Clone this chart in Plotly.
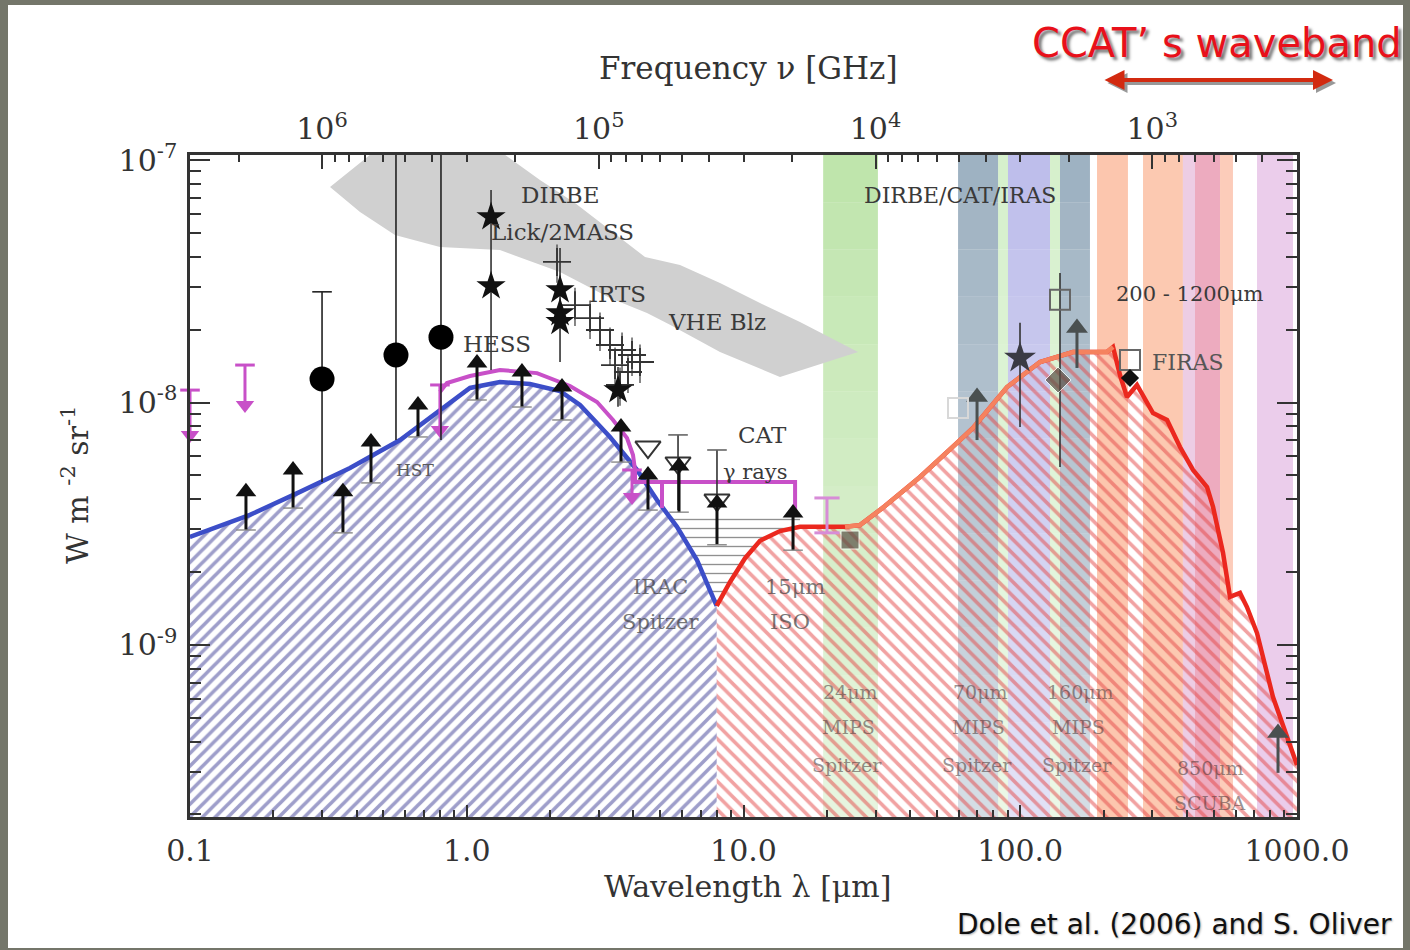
import plotly.graph_objects as go

# ---------------- data (wavelength in micron, intensity in W m^-2 sr^-1) ----------------
# instrument bands (vertical coloured strips)
band_lo = [19.4, 59.6, 83.2, 90.3, 128.1, 139.2, 189.4, 277.7, 387.0, 428.0, 527.0, 717.0]
band_hi = [30.6, 83.2, 90.3, 128.1, 139.2, 178.6, 245.0, 387.0, 428.0, 527.0, 587.0, 967.0]

# VHE blazar constraint region (grey)
vhe_lam = [0.3206, 0.4471, 1.375, 1.839, 2.461, 3.293, 4.407, 5.896, 8.225, 11.47, 16.0, 25.93,
           13.55, 8.225, 5.425, 4.48, 3.293, 2.173, 1.318, 0.80, 0.5504, 0.4114]
vhe_F = [7.74e-8, 1.05e-7, 1.05e-7, 8.27e-8, 6.65e-8, 5.14e-8, 3.98e-8, 3.69e-8, 3.11e-8, 2.57e-8, 2.15e-8, 1.615e-8,
         1.274e-8, 1.615e-8, 2.09e-8, 2.34e-8, 2.70e-8, 3.45e-8, 4.25e-8, 4.38e-8, 4.91e-8, 6.1e-8]

# COB (optical background) model
blue_lam = [0.1, 0.1647, 0.2497, 0.3786, 0.574, 0.80, 1.027, 1.318, 1.692, 2.173, 2.566, 3.293,
            4.123, 4.868, 5.75, 6.79, 8.0]
blue_F = [2.79e-9, 3.44e-9, 4.28e-9, 5.37e-9, 7.0e-9, 9.31e-9, 1.148e-8, 1.215e-8, 1.192e-8, 1.115e-8,
          9.77e-9, 7.21e-9, 5.27e-9, 3.96e-9, 3.07e-9, 2.24e-9, 1.45e-9]

# CIB (infrared background) model
red_lam = [8.0, 8.94, 10.13, 11.47, 13.55, 16.0, 23.27, 26.36, 32.45, 43.43, 60.57, 67.5, 89.6, 117.9,
           155.1, 205.9, 216.4, 229.3, 243.0, 264.1, 301.8, 339.1, 377.8, 421.0, 473.1, 497.3, 540.3,
           572.6, 622.3, 659.5, 717.0, 819.0, 1000.0]
red_F = [1.45e-9, 1.82e-9, 2.28e-9, 2.69e-9, 2.95e-9, 3.07e-9, 3.07e-9, 3.12e-9, 3.74e-9, 4.93e-9, 7.0e-9,
         7.85e-9, 1.158e-8, 1.469e-8, 1.615e-8, 1.615e-8, 1.694e-8, 1.298e-8, 1.054e-8, 1.181e-8, 9.05e-9,
         8.47e-9, 6.55e-9, 5.27e-9, 4.48e-9, 3.71e-9, 2.40e-9, 1.58e-9, 1.64e-9, 1.434e-9, 1.12e-9, 6.1e-10,
         3.2e-10]

# IRAC gap region (horizontal hatch)
irac_lam = [5.5, 5.75, 6.79, 8.0, 8.94, 10.13, 11.47, 13.55, 16.0, 16.0]
irac_F = [3.34e-9, 3.07e-9, 2.24e-9, 1.45e-9, 1.82e-9, 2.28e-9, 2.69e-9, 2.95e-9, 3.07e-9, 3.34e-9]

# HESS / gamma-ray upper-limit curve (magenta)
mag_lam = [0.80, 0.848, 1.027, 1.318, 1.794, 2.361, 2.956, 3.377, 3.793, 3.988, 4.055, 4.055, 15.36, 15.36]
mag_F = [1.105e-8, 1.203e-8, 1.286e-8, 1.361e-8, 1.322e-8, 1.17e-8, 1.005e-8, 8.47e-9, 7.14e-9, 6.07e-9,
         5.27e-9, 4.70e-9, 4.70e-9, 3.60e-9]
mag_drop_lam = [5.075]
mag_drop_lo = [3.67e-9]
mag_drop_hi = [4.70e-9]

# magenta upper limits (arrows pointing down)
ul_lam = [0.1, 0.158, 0.80, 3.955]
ul_hi = [1.125e-8, 1.427e-8, 1.181e-8, 5.27e-9]
ul_lo = [7.35e-9, 9.77e-9, 7.7e-9, 4.08e-9]
mbar_lam = [20.03]
mbar_lo = [2.90e-9]
mbar_hi = [4.04e-9]

# filled circles with error bars
circ_lam = [0.30, 0.555, 0.807]
circ_F = [1.25e-8, 1.57e-8, 1.86e-8]
circ_lo = [4.7e-9, 7.0e-9, 7.0e-9]
circ_hi = [2.86e-8, 1.5e-7, 1.5e-7]

# stars
star_lam = [1.224, 1.224, 2.173, 2.173, 2.173, 3.52]
star_F = [5.82e-8, 3.02e-8, 2.91e-8, 2.34e-8, 2.15e-8, 1.125e-8]
fir_star_lam = [99.8]
fir_star_F = [1.526e-8]

# plain vertical error bars
bar_lam = [1.224, 2.173, 3.52, 5.80, 8.02, 99.8, 139.2]
bar_lo = [1.36e-8, 1.47e-8, 9.6e-9, 3.6e-9, 2.59e-9, 7.92e-9, 5.42e-9]
bar_hi = [7.52e-8, 4.34e-8, 1.4e-8, 7.35e-9, 6.37e-9, 2.13e-8, 3.42e-8]

# IRTS crosses
irts_lam = [2.119, 2.461, 2.789, 3.03, 3.293, 3.64, 3.955, 3.434, 3.825, 3.579, 4.227]
irts_F = [3.80e-8, 2.52e-8, 2.23e-8, 1.99e-8, 1.726e-8, 1.646e-8, 1.57e-8, 1.427e-8, 1.336e-8, 1.181e-8, 1.469e-8]

# lower limits (arrows pointing up)
ll_lam = [0.1593, 0.2357, 0.357, 0.4508, 0.6665, 1.089, 1.583, 2.209, 3.609, 4.517, 5.848, 8.02, 15.1]
ll_lo = [2.98e-9, 3.67e-9, 2.90e-9, 4.66e-9, 7.21e-9, 1.024e-8, 9.58e-9, 8.47e-9, 5.68e-9, 3.60e-9, 3.53e-9,
         2.59e-9, 2.46e-9]
ll_hi = [4.28e-9, 5.27e-9, 4.28e-9, 6.87e-9, 9.77e-9, 1.455e-8, 1.336e-8, 1.158e-8, 7.92e-9, 5.02e-9, 5.47e-9,
         3.85e-9, 3.50e-9]
ll2_lam = [69.8, 160.3, 853.9]
ll2_lo = [7.0e-9, 1.388e-8, 2.97e-10]
ll2_hi = [1.054e-8, 2.03e-8, 4.34e-10]

# open down-triangles (CAT)
otri_lam = [4.517, 5.80, 8.02]
otri_F = [6.55e-9, 5.63e-9, 3.96e-9]

# open squares, dark squares
osq_lam = [139.2, 249.2, 59.57]
osq_F = [2.65e-8, 1.497e-8, 9.49e-9]
dsq_lam = [136.9, 24.26]
dsq_F = [1.238e-8, 2.71e-9]
blk_lam = [249.2]
blk_F = [1.262e-8]

x_ticks = [0.1, 1, 10, 100, 1000]
x_ticktext = ["0.1", "1.0", "10.0", "100.0", "1000.0"]
nu_ticks = [1e6, 1e5, 1e4, 1e3]
nu_ticktext = ["10<sup>6</sup>", "10<sup>5</sup>", "10<sup>4</sup>", "10<sup>3</sup>"]
y_ticks = [1e-9, 1e-8, 1e-7]
y_ticktext = ["10<sup>-9</sup>", "10<sup>-8</sup>", "10<sup>-7</sup>"]

# ---------------- styles ----------------
# (r, g, b, alpha at top, alpha at bottom)
band_styles = [(150, 212, 118, 0.62, 0.22), (118, 146, 168, 0.72, 0.30), (190, 232, 175, 0.65, 0.30),
               (158, 158, 225, 0.68, 0.30), (190, 232, 175, 0.65, 0.30), (118, 146, 168, 0.72, 0.30),
               (250, 160, 120, 0.60, 0.60), (250, 165, 125, 0.60, 0.60), (226, 175, 212, 0.62, 0.62),
               (226, 120, 152, 0.62, 0.62), (250, 170, 140, 0.60, 0.60), (222, 175, 222, 0.62, 0.62)]
N_SLICES = 14

SERIF = "DejaVu Serif"
INK = "#333333"
W, H = 1410, 950
PL, PR, PT, PB = 190, 1297, 155, 817
Y_RANGE = [-9.7093, -6.9794]
Y_LO, Y_HI = 1e-10, 1e-6  # beyond plot range, clipped


def pxx(x):
    return (x - PL) / (PR - PL)


def pxy(y):
    return (PB - y) / (PB - PT)


def segs(xs, a, b):
    X, Y = [], []
    for x, y0, y1 in zip(xs, a, b):
        X += [x, x, None]
        Y += [y0, y1, None]
    return X, Y


fig = go.Figure()

# instrument bands (vertical fade drawn as stacked slices)
for lo, hi, (r, g, b, a_top, a_bot) in zip(band_lo, band_hi, band_styles):
    if a_top == a_bot:
        fig.add_trace(go.Scatter(x=[lo, hi, hi, lo, lo], y=[Y_LO, Y_LO, Y_HI, Y_HI, Y_LO], mode="none",
                                 fill="toself", fillcolor=f"rgba({r},{g},{b},{a_top})", hoverinfo="skip"))
        continue
    for k in range(N_SLICES):
        e0 = Y_RANGE[0] + (Y_RANGE[1] - Y_RANGE[0]) * k / N_SLICES
        e1 = Y_RANGE[0] + (Y_RANGE[1] - Y_RANGE[0]) * (k + 1) / N_SLICES
        y0 = Y_LO if k == 0 else 10 ** e0
        y1 = Y_HI if k == N_SLICES - 1 else 10 ** e1
        t = (k + 0.5) / N_SLICES
        a = a_bot + (a_top - a_bot) * t
        fig.add_trace(go.Scatter(x=[lo, hi, hi, lo, lo], y=[y0, y0, y1, y1, y0], mode="none",
                                 fill="toself", fillcolor=f"rgba({r},{g},{b},{a:.3f})", hoverinfo="skip"))

# VHE region
fig.add_trace(go.Scatter(x=vhe_lam + vhe_lam[:1], y=vhe_F + vhe_F[:1], mode="none", fill="toself",
                         fillcolor="rgb(208,208,208)", hoverinfo="skip"))

# IRAC horizontal hatch
fig.add_trace(go.Scatter(x=irac_lam + irac_lam[:1], y=irac_F + irac_F[:1], mode="none", fill="toself",
                         fillcolor="rgba(0,0,0,0)",
                         fillpattern=dict(shape="-", fgcolor="#222222", bgcolor="rgba(0,0,0,0)", size=9,
                                          solidity=0.15),
                         hoverinfo="skip"))

# blue hatched area
fig.add_trace(go.Scatter(x=blue_lam + [blue_lam[-1], blue_lam[0], blue_lam[0]],
                         y=blue_F + [Y_LO, Y_LO, blue_F[0]], mode="none", fill="toself",
                         fillcolor="rgba(0,0,0,0)",
                         fillpattern=dict(shape="/", fgcolor="rgb(62,62,150)", bgcolor="rgba(255,255,255,0)",
                                          size=9, solidity=0.4),
                         hoverinfo="skip"))
# red hatched area
fig.add_trace(go.Scatter(x=red_lam + [red_lam[-1], red_lam[0], red_lam[0]],
                         y=red_F + [Y_LO, Y_LO, red_F[0]], mode="none", fill="toself",
                         fillcolor="rgba(0,0,0,0)",
                         fillpattern=dict(shape="\\", fgcolor="rgb(228,70,70)", bgcolor="rgba(255,255,255,0)",
                                          size=10, solidity=0.36),
                         hoverinfo="skip"))

# model curves
fig.add_trace(go.Scatter(x=blue_lam, y=blue_F, mode="lines", line=dict(color="rgb(60,78,200)", width=4.5)))
fig.add_trace(go.Scatter(x=red_lam, y=red_F, mode="lines", line=dict(color="rgb(235,40,30)", width=4.5)))
fig.add_trace(go.Scatter(x=red_lam[6:17], y=red_F[6:17], mode="lines",
                         line=dict(color="rgb(245,130,95)", width=4.5)))

# magenta curve and limits
MAG = "rgb(200,80,200)"
fig.add_trace(go.Scatter(x=mag_lam, y=mag_F, mode="lines", line=dict(color=MAG, width=4)))
X, Y = segs(mag_drop_lam, mag_drop_lo, mag_drop_hi)
fig.add_trace(go.Scatter(x=X, y=Y, mode="lines", line=dict(color=MAG, width=4)))
X, Y = segs(ul_lam, ul_lo, ul_hi)
fig.add_trace(go.Scatter(x=X, y=Y, mode="lines", line=dict(color=MAG, width=3), cliponaxis=False))
fig.add_trace(go.Scatter(x=ul_lam, y=ul_lo, mode="markers", cliponaxis=False,
                         marker=dict(symbol="triangle-down", size=16, color=MAG)))
fig.add_trace(go.Scatter(x=ul_lam, y=ul_hi, mode="markers", cliponaxis=False,
                         marker=dict(symbol="line-ew", size=14, color=MAG, line=dict(color=MAG, width=3))))
X, Y = segs(mbar_lam, mbar_lo, mbar_hi)
fig.add_trace(go.Scatter(x=X, y=Y, mode="lines", line=dict(color="rgb(215,140,215)", width=3)))
fig.add_trace(go.Scatter(x=mbar_lam * 2, y=mbar_lo + mbar_hi, mode="markers",
                         marker=dict(symbol="line-ew", size=18, color="rgb(215,140,215)",
                                     line=dict(color="rgb(215,140,215)", width=3))))

# error bars
X, Y = segs(circ_lam, circ_lo, circ_hi)
fig.add_trace(go.Scatter(x=X, y=Y, mode="lines", line=dict(color="#222222", width=1.6)))
fig.add_trace(go.Scatter(x=circ_lam[:1], y=circ_hi[:1], mode="markers",
                         marker=dict(symbol="line-ew", size=14, color="#222222",
                                     line=dict(color="#222222", width=1.6))))
X, Y = segs(bar_lam, bar_lo, bar_hi)
fig.add_trace(go.Scatter(x=X, y=Y, mode="lines", line=dict(color="#333333", width=1.6)))
fig.add_trace(go.Scatter(x=bar_lam[3:5], y=bar_hi[3:5], mode="markers",
                         marker=dict(symbol="line-ew", size=14, color="#666666",
                                     line=dict(color="#666666", width=1.6))))

# IRTS crosses
fig.add_trace(go.Scatter(x=irts_lam, y=irts_F, mode="markers",
                         marker=dict(symbol="cross-thin", size=20, color="#333333",
                                     line=dict(color="#333333", width=1.8)),
                         error_y=dict(type="percent", value=18, color="#444444", thickness=1.3, width=0)))

# circles, stars
fig.add_trace(go.Scatter(x=circ_lam, y=circ_F, mode="markers", marker=dict(symbol="circle", size=25,
                                                                              color="black")))
fig.add_trace(go.Scatter(x=star_lam, y=star_F, mode="markers", marker=dict(symbol="star", size=22,
                                                                              color="#111111")))
fig.add_trace(go.Scatter(x=fir_star_lam, y=fir_star_F, mode="markers",
                         marker=dict(symbol="star", size=24, color="#3a3a44")))

# open triangles (drawn before the lower-limit arrows)
fig.add_trace(go.Scatter(x=otri_lam, y=otri_F, mode="markers",
                         marker=dict(symbol="triangle-down-open", size=22, color="#333333",
                                     line=dict(color="#333333", width=2))))

# lower limits
X, Y = segs(ll_lam, ll_lo, ll_hi)
fig.add_trace(go.Scatter(x=X, y=Y, mode="lines", line=dict(color="#111111", width=3)))
fig.add_trace(go.Scatter(x=ll_lam, y=ll_lo, mode="markers",
                         marker=dict(symbol="line-ew", size=14, color="#888888",
                                     line=dict(color="#888888", width=1.4))))
fig.add_trace(go.Scatter(x=ll_lam, y=ll_hi, mode="markers",
                         marker=dict(symbol="triangle-up", size=18, color="#111111")))
X, Y = segs(ll2_lam, ll2_lo, ll2_hi)
fig.add_trace(go.Scatter(x=X, y=Y, mode="lines", line=dict(color="#4a5050", width=3)))
fig.add_trace(go.Scatter(x=ll2_lam, y=ll2_hi, mode="markers",
                         marker=dict(symbol="triangle-up", size=19, color="#4a5050")))

# squares
fig.add_trace(go.Scatter(x=osq_lam[:2], y=osq_F[:2], mode="markers",
                         marker=dict(symbol="square-open", size=20, color="#666666",
                                     line=dict(color="#666666", width=2))))
fig.add_trace(go.Scatter(x=osq_lam[2:], y=osq_F[2:], mode="markers",
                         marker=dict(symbol="square-open", size=20, color="#d8d8d8",
                                     line=dict(color="#d8d8d8", width=2))))
fig.add_trace(go.Scatter(x=dsq_lam, y=dsq_F, mode="markers",
                         marker=dict(symbol=["diamond", "square"], size=[20, 18], color="#5a5046")))
fig.add_trace(go.Scatter(x=blk_lam, y=blk_F, mode="markers",
                         marker=dict(symbol="diamond", size=14, color="#111111")))

# helper trace for the frequency axis
fig.add_trace(go.Scatter(x=nu_ticks, y=[1e-8] * len(nu_ticks), xaxis="x2", mode="markers",
                         marker=dict(opacity=0), hoverinfo="skip"))


# ---------------- text ----------------
def txt(s, x, y, size=23, color="#3a3a3a", family=SERIF, **kw):
    fig.add_annotation(text=s, x=pxx(x), y=pxy(y), xref="paper", yref="paper", showarrow=False,
                       font=dict(family=family, size=size, color=color), xanchor="center",
                       yanchor="middle", **kw)


txt("DIRBE", 560, 195)
txt("Lick/2MASS", 562, 232)
txt("IRTS", 617, 294)
txt("VHE Blz", 717, 322)
txt("HESS", 497, 344)
txt("HST", 415, 470, size=17, color="#5a5a5a")
txt("CAT", 762, 435)
txt("γ rays", 755, 472, size=21)
txt("IRAC", 660, 587, size=21, color="rgba(60,60,60,0.7)")
txt("Spitzer", 660, 622, size=21, color="rgba(60,60,60,0.7)")
txt("15μm", 795, 587, size=21, color="rgba(60,60,60,0.7)")
txt("ISO", 790, 622, size=21, color="rgba(60,60,60,0.7)")
txt("DIRBE/CAT/IRAS", 960, 195, size=22)
txt("200 - 1200μm", 1190, 294, size=21)
txt("FIRAS", 1187, 362, size=22, color="#555555")
for cx, lab in [(850, "24μm"), (980, "70μm"), (1080, "160μm")]:
    txt(lab, cx, 692, size=19, color="rgba(70,55,55,0.55)")
    txt("MIPS", cx - 2, 727, size=19, color="rgba(70,55,55,0.55)")
    txt("Spitzer", cx - 3, 765, size=19, color="rgba(70,55,55,0.55)")
txt("850μm", 1210, 768, size=19, color="rgba(70,55,55,0.55)")
txt("SCUBA", 1210, 803, size=19, color="rgba(70,55,55,0.55)")

# axis titles
txt("Wavelength λ [μm]", 748, 886, size=30, color=INK)
txt("Frequency ν [GHz]", 748, 68, size=31, color=INK)
txt("W m <sup>-2</sup> sr<sup>-1</sup>", 75, 485, size=30, color=INK, textangle=-90)

# CCAT label (text shadow via font.shadow) and double arrow
fig.add_annotation(text="CCAT’ s waveband", x=pxx(1030), y=pxy(43), xref="paper", yref="paper",
                   showarrow=False, xanchor="left", yanchor="middle",
                   font=dict(family="DejaVu Sans", size=40, color="#e8101a",
                             shadow="3px 3px 3px rgba(0,0,0,0.55)"))
for dx, dy, col in [(3, 3, "rgba(0,0,0,0.4)"), (0, 0, "#d22a10")]:
    fig.add_annotation(text="", x=pxx(1333 + dx), y=pxy(80 + dy), xref="paper", yref="paper",
                       ax=-230, ay=0, showarrow=True, arrowhead=2, startarrowhead=2, arrowside="end+start",
                       arrowwidth=4, arrowsize=1, startarrowsize=1, arrowcolor=col,
                       standoff=0, startstandoff=0)

fig.add_annotation(text="Dole et al. (2006) and S. Oliver", x=pxx(1394), y=pxy(924), xref="paper", yref="paper",
                   showarrow=False, xanchor="right", yanchor="middle",
                   font=dict(family="DejaVu Sans", size=28, color="#111111",
                             shadow="1px 1px 2px rgba(0,0,0,0.3)"))

# background panel
fig.add_shape(type="rect", xref="paper", yref="paper", x0=pxx(8), x1=pxx(1403), y0=pxy(948), y1=pxy(5),
              fillcolor="white", line=dict(width=0), layer="below")

# ---------------- axes ----------------
minor_y = [m * 10.0 ** e for e in range(-10, -6) for m in range(2, 10)]
minor_nu = [m * 10.0 ** e for e in range(2, 7) for m in range(2, 10)]
minor_x = [m * 10.0 ** e for e in range(-1, 3) for m in range(2, 10)]

axis_common = dict(showgrid=False, zeroline=False, showline=True, linecolor=INK, linewidth=2.5,
                   ticks="inside", tickcolor=INK, tickwidth=2,
                   tickfont=dict(family=SERIF, size=30, color=INK))

fig.update_layout(
    width=W, height=H, margin=dict(l=PL, r=W - PR, t=PT, b=H - PB),
    paper_bgcolor="#74766a", plot_bgcolor="rgba(0,0,0,0)", showlegend=False,
    xaxis=dict(type="log", range=[-1, 3], tickvals=x_ticks, ticktext=x_ticktext, ticklen=12,
               minor=dict(ticks="inside", ticklen=7, tickwidth=1.5, tickcolor=INK, tickvals=minor_x),
               ticklabelstandoff=5, **axis_common),
    xaxis2=dict(type="log", overlaying="x", side="top", anchor="y", range=[6.47712, 2.47712],
                tickvals=nu_ticks, ticktext=nu_ticktext, ticklen=14,
                minor=dict(ticks="inside", ticklen=7, tickwidth=1.5, tickcolor=INK, tickvals=minor_nu),
                ticklabelstandoff=1, **axis_common),
    yaxis=dict(type="log", range=Y_RANGE, tickvals=y_ticks, ticktext=y_ticktext, ticklen=20,
               mirror="ticks",
               minor=dict(ticks="inside", ticklen=11, tickwidth=2, tickcolor=INK, tickvals=minor_y),
               ticklabelstandoff=4, **axis_common),
)

fig.write_html("out.html", config={"displayModeBar": False},
               post_script="document.body.style.margin='0px';")
